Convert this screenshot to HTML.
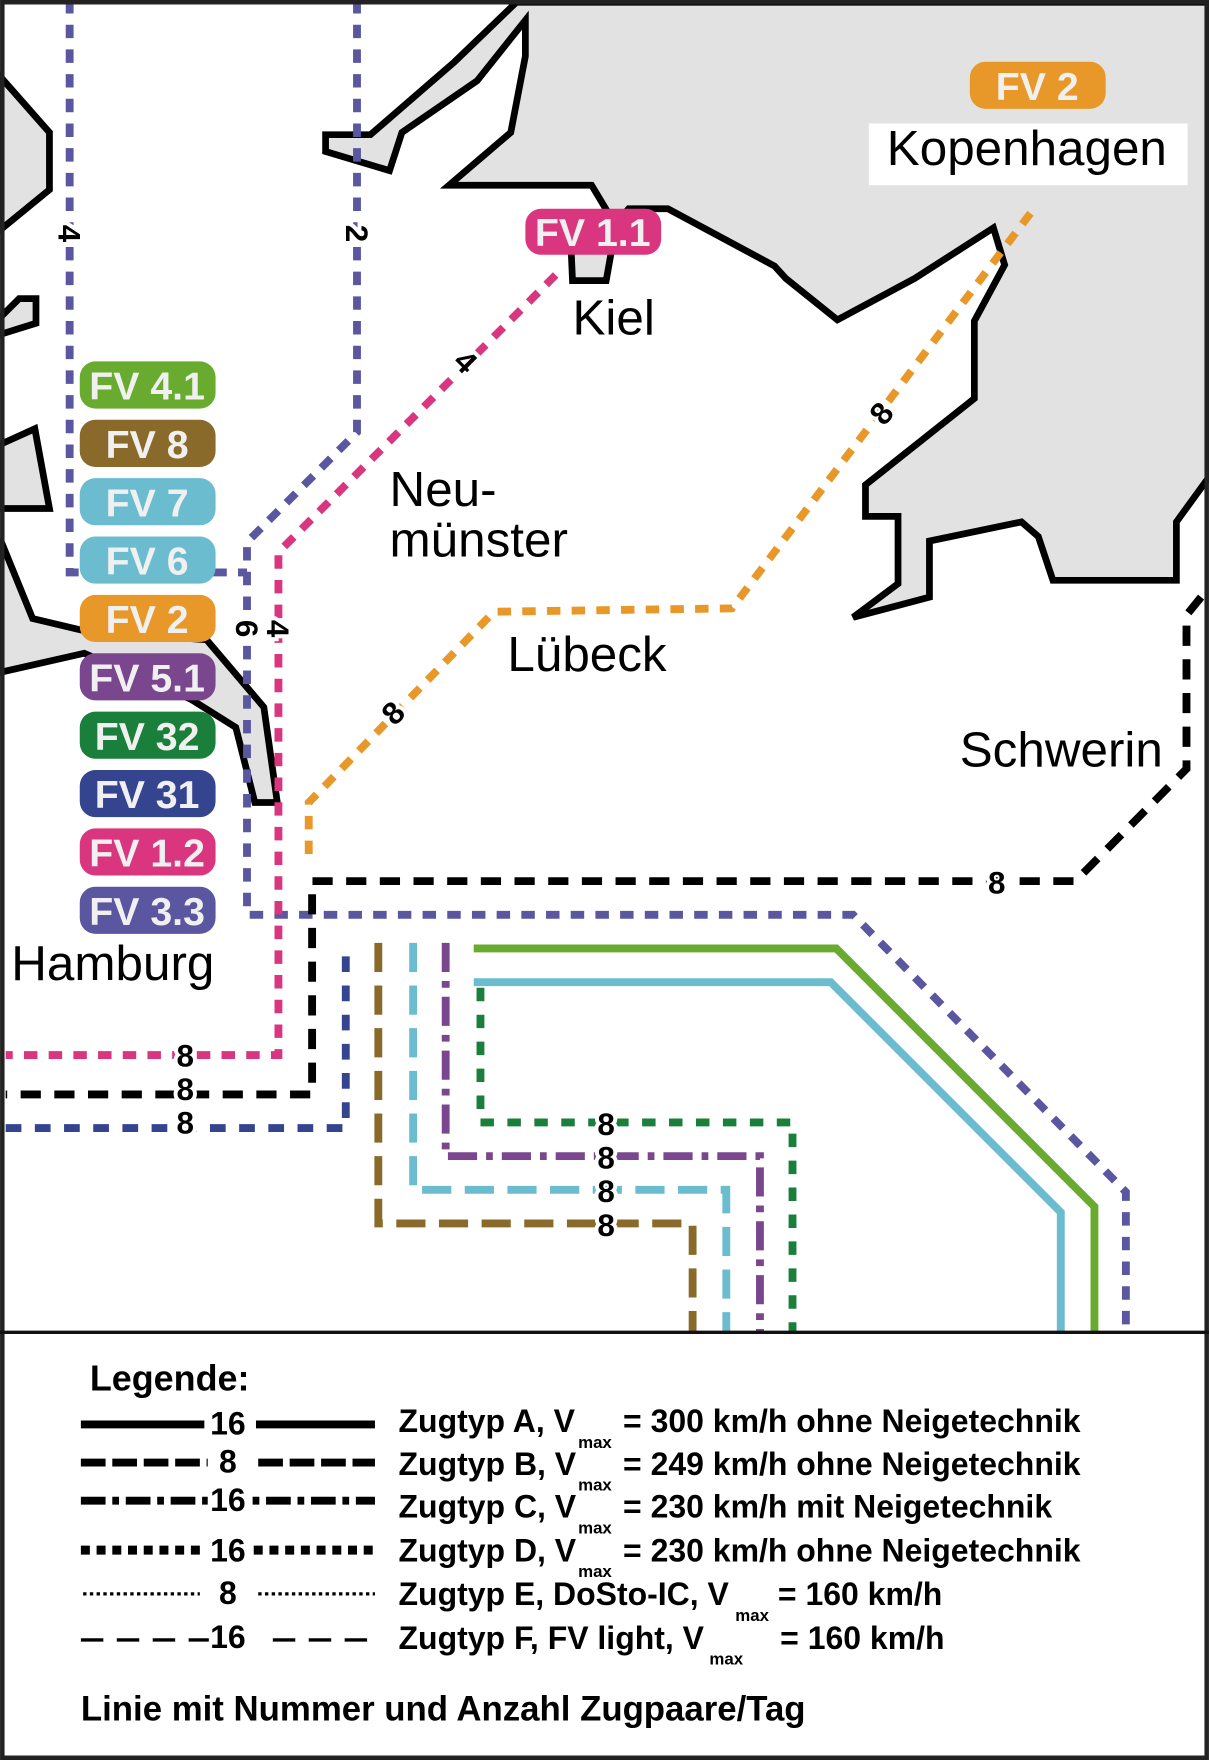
<!DOCTYPE html>
<html><head><meta charset="utf-8"><style>html,body{margin:0;padding:0;background:#fff}svg{display:block}</style></head>
<body>
<svg width="1209" height="1760" viewBox="0 0 1077 1568" xmlns="http://www.w3.org/2000/svg" font-family="Liberation Sans, Arial, sans-serif">
<rect x="0" y="0" width="1077" height="1568" fill="#fff"/>
<g fill="#e2e2e2" stroke="#000" stroke-width="6" stroke-linejoin="miter">
<polygon points="460,2 1077,2 1077,425 1048,465 1048,517 938,517 925,478 910,465 828,482 828,532 760,550 800,520 800,460 771,460 771,432 868,355 868,286 895,236 885,203 815,248 746,285 700,248 690,237 595,186 560,186 548,200 527,165 400,165 455,118 468,50 468,18 425,72 358,118 347,152 290,135 290,120 330,120 405,55"/>
<polygon points="508,205 548,205 540,250 510,250"/>
<polygon points="0,68 44,118 44,169 0,205"/>
<polygon points="0,283 17,266 32,266 32,288 0,298"/>
<polygon points="0,396 31,382 44,453 0,453"/>
<polygon points="0,480 29,551 75,562 184,570 235,630 247,715 227,715 210,648 170,623 75,582 0,599"/>
</g>
<g fill="none" stroke-width="7">
<polyline stroke="#5a56a0" stroke-dasharray="12,10" points="62,0 62,510 220,510"/>
<polyline stroke="#5a56a0" stroke-dasharray="12,10" points="318,0 318,385 220,483 220,815 760,815 1003,1062 1003,1187"/>
<polyline stroke="#d9367f" stroke-dasharray="12,10" points="495,245 248,492 248,940 5,940"/>
<polyline stroke="#e89828" stroke-dasharray="12,10" points="918,190 652,542 440,545 275,715 275,765"/>
<polyline stroke="#000" stroke-dasharray="18,12" points="1070,532 1057,548 1057,685 958,785 278,785 278,975 5,975"/>
<polyline stroke="#34448f" stroke-dasharray="14,12" points="5,1005 308,1005 308,840"/>
<polyline stroke="#8a6a2a" stroke-dasharray="26,12" points="337,840 337,1090 617,1090 617,1187"/>
<polyline stroke="#6bbccf" stroke-dasharray="26,12" points="368,840 368,1060 647,1060 647,1187"/>
<polyline stroke="#7a478f" stroke-dasharray="26,8,6,8" points="397,840 397,1030 677,1030 677,1187"/>
<polyline stroke="#1a7f3a" stroke-dasharray="12,12" points="428,880 428,1000 706,1000 706,1187"/>
<polyline stroke="#69ab2e" points="422,845 745,845 975,1075 975,1187"/>
<polyline stroke="#6bbccf" points="422,875 740,875 945,1080 945,1187"/>
</g>
<g font-weight="bold" font-size="28" fill="#000" text-anchor="middle" stroke="#fff" stroke-width="7" paint-order="stroke">
<text x="62" y="218" transform="rotate(90 62 208)">4</text>
<text x="318" y="218" transform="rotate(90 318 208)">2</text>
<text x="220" y="570" transform="rotate(90 220 560)">6</text>
<text x="248" y="570" transform="rotate(90 248 560)">4</text>
<text x="415" y="332" transform="rotate(45 415 322)">4</text>
<text x="785" y="378" transform="rotate(-50 785 368)">8</text>
<text x="350" y="645" transform="rotate(-45 350 635)">8</text>
<text x="888" y="796">8</text>
<text x="165" y="950">8</text>
<text x="165" y="980">8</text>
<text x="165" y="1010">8</text>
<text x="540" y="1011">8</text>
<text x="540" y="1041">8</text>
<text x="540" y="1071">8</text>
<text x="540" y="1101">8</text>
</g>
<g font-weight="bold" font-size="35" fill="#f0f0f0" text-anchor="middle">
<rect x="71" y="322" width="121" height="42" rx="14" fill="#69ab2e"/><text x="131" y="356">FV 4.1</text>
<rect x="71" y="374" width="121" height="42" rx="14" fill="#8a6a2a"/><text x="131" y="408">FV 8</text>
<rect x="71" y="426" width="121" height="42" rx="14" fill="#6bbccf"/><text x="131" y="460">FV 7</text>
<rect x="71" y="478" width="121" height="42" rx="14" fill="#6bbccf"/><text x="131" y="512">FV 6</text>
<rect x="71" y="530" width="121" height="42" rx="14" fill="#e89828"/><text x="131" y="564">FV 2</text>
<rect x="71" y="582" width="121" height="42" rx="14" fill="#7a478f"/><text x="131" y="616">FV 5.1</text>
<rect x="71" y="634" width="121" height="42" rx="14" fill="#1a7f3a"/><text x="131" y="668">FV 32</text>
<rect x="71" y="686" width="121" height="42" rx="14" fill="#34448f"/><text x="131" y="720">FV 31</text>
<rect x="71" y="738" width="121" height="42" rx="14" fill="#d9367f"/><text x="131" y="772">FV 1.2</text>
<rect x="71" y="790" width="121" height="42" rx="14" fill="#5a56a0"/><text x="131" y="824">FV 3.3</text>
<rect x="468" y="186" width="121" height="41" rx="14" fill="#d9367f"/><text x="528" y="219">FV 1.1</text>
<rect x="864" y="55" width="121" height="42" rx="14" fill="#e89828"/><text x="924" y="89">FV 2</text>
</g>
<rect x="774" y="110" width="284" height="55" fill="#fff"/>
<g font-size="44" fill="#000">
<text x="790" y="147">Kopenhagen</text>
<text x="510" y="298">Kiel</text>
<text x="347" y="451">Neu-</text>
<text x="347" y="496">münster</text>
<text x="452" y="598">Lübeck</text>
<text x="855" y="683">Schwerin</text>
<text x="10" y="873">Hamburg</text>
</g>
<rect x="2" y="2" width="1073" height="1564" fill="none" stroke="#222" stroke-width="4"/>
<line x1="0" y1="1187" x2="1077" y2="1187" stroke="#111" stroke-width="3"/>
<g font-weight="bold" fill="#000">
<text x="80" y="1239" font-size="32">Legende:</text>
<g font-size="28.5">
<text x="355" y="1276">Zugtyp A, V</text><text x="515" y="1290" font-size="15">max</text><text x="555" y="1276">= 300 km/h ohne Neigetechnik</text>
<text x="355" y="1314">Zugtyp B, V</text><text x="515" y="1328" font-size="15">max</text><text x="555" y="1314">= 249 km/h ohne Neigetechnik</text>
<text x="355" y="1352">Zugtyp C, V</text><text x="515" y="1366" font-size="15">max</text><text x="555" y="1352">= 230 km/h mit Neigetechnik</text>
<text x="355" y="1391">Zugtyp D, V</text><text x="515" y="1405" font-size="15">max</text><text x="555" y="1391">= 230 km/h ohne Neigetechnik</text>
<text x="355" y="1430">Zugtyp E, DoSto-IC, V</text><text x="655" y="1444" font-size="15">max</text><text x="693" y="1430">= 160 km/h</text>
<text x="355" y="1469">Zugtyp F, FV light, V</text><text x="632" y="1483" font-size="15">max</text><text x="695" y="1469">= 160 km/h</text>
<g text-anchor="middle">
<text x="203" y="1278">16</text><text x="203" y="1312">8</text><text x="203" y="1346">16</text>
<text x="203" y="1391">16</text><text x="203" y="1429">8</text><text x="203" y="1468">16</text>
</g>
</g>
<text x="72" y="1533" font-size="31">Linie mit Nummer und Anzahl Zugpaare/Tag</text>
</g>
<g fill="none" stroke="#000">
<line x1="72" y1="1269" x2="182" y2="1269" stroke-width="7"/><line x1="228" y1="1269" x2="334" y2="1269" stroke-width="7"/>
<line x1="72" y1="1303" x2="185" y2="1303" stroke-width="7" stroke-dasharray="22,6"/><line x1="230" y1="1303" x2="334" y2="1303" stroke-width="7" stroke-dasharray="22,6"/>
<line x1="72" y1="1337" x2="185" y2="1337" stroke-width="7" stroke-dasharray="22,6,6,6"/><line x1="225" y1="1337" x2="334" y2="1337" stroke-width="7" stroke-dasharray="6,6,22,6"/>
<line x1="72" y1="1381" x2="182" y2="1381" stroke-width="8" stroke-dasharray="8,6"/><line x1="226" y1="1381" x2="334" y2="1381" stroke-width="8" stroke-dasharray="8,6"/>
<line x1="74" y1="1420" x2="178" y2="1420" stroke-width="3" stroke-dasharray="3,3"/><line x1="230" y1="1420" x2="334" y2="1420" stroke-width="3" stroke-dasharray="3,3"/>
<line x1="72" y1="1461" x2="186" y2="1461" stroke-width="3" stroke-dasharray="20,12"/><line x1="243" y1="1461" x2="334" y2="1461" stroke-width="3" stroke-dasharray="20,12"/>
</g>
</svg>
</body></html>
